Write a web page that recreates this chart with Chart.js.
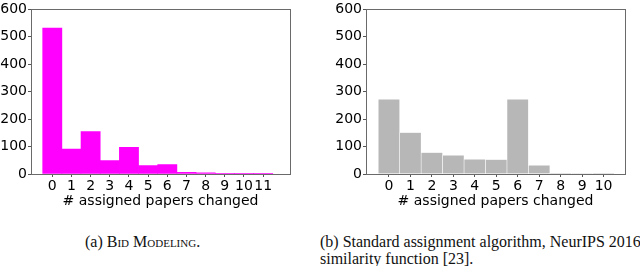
<!DOCTYPE html>
<html>
<head>
<meta charset="utf-8">
<script src="https://cdn.jsdelivr.net/npm/chart.js@4/dist/chart.umd.min.js"></script>
<style>
  body { margin: 0; background: #fff; width: 640px; height: 266px; position: relative; overflow: hidden; }
  canvas { position: absolute; top: 0; }
  #graficoBid { left: 0; }
  #graficoStd { left: 320px; }
  .caption { position: absolute; font-family: 'Liberation Serif', serif; font-size: 16px; color: #111; white-space: nowrap; line-height: 17px; }
  .sc { font-variant: small-caps; }
</style>
</head>
<body>
<canvas id="graficoBid" width="320" height="212"></canvas>
<canvas id="graficoStd" width="320" height="212"></canvas>
<div class="caption" style="left:85px; top:233px;">(a) <span class="sc">Bid Modeling</span>.</div>
<div class="caption" style="left:320px; top:233px;">(b) Standard assignment algorithm, NeurIPS 2016<br>similarity function [23].</div>

<script>
// datos
const bidBins = [0, 1, 2, 3, 4, 5, 6, 7, 8, 9, 10, 11];
const bidCounts = [532, 91, 155, 49, 97, 31, 34, 6, 4, 1, 1, 1];
const stdBins = [0, 1, 2, 3, 4, 5, 6, 7, 8, 9, 10];
const stdCounts = [273, 151, 78, 68, 54, 53, 273, 32, 1, 2, 1];
const yTicks = [0, 100, 200, 300, 400, 500, 600];
const xTitle = '# assigned papers changed';

Chart.defaults.font.family = "'DejaVu Sans', sans-serif";
Chart.defaults.font.size = 14;
Chart.defaults.color = '#000';

const marco = {
  id: 'marco',
  afterDraw(chart) {
    const { ctx, chartArea: a } = chart;
    ctx.save();
    ctx.strokeStyle = '#6a6a6a';
    ctx.lineWidth = 1;
    ctx.strokeRect(Math.round(a.left) + 0.5, Math.round(a.top) + 0.5,
      Math.round(a.right - a.left), Math.round(a.bottom - a.top));
    ctx.restore();
  }
};

function crearHistograma(id, bins, counts, color, xMin, xMax, ejeY, padDer, borde) {
  const ctx = document.getElementById(id).getContext('2d');
  new Chart(ctx, {
    type: 'bar',
    data: {
      datasets: [{
        data: bins.map((b, i) => ({ x: b, y: counts[i] })),
        backgroundColor: color,
        borderColor: borde ? 'rgba(255,255,255,0.5)' : color,
        borderWidth: borde ? 0.6 : 0,
        barPercentage: 1,
        categoryPercentage: 1
      }]
    },
    options: {
      responsive: false,
      animation: false,
      layout: { padding: { top: 5, right: padDer, left: 0, bottom: 0 } },
      plugins: { legend: { display: false }, tooltip: { enabled: false } },
      scales: {
        x: {
          type: 'linear',
          min: xMin,
          max: xMax,
          offset: false,
          afterBuildTicks: s => { s.ticks = bins.map(v => ({ value: v })); },
          afterFit: s => { s.height = 38; },
          ticks: { padding: 1, maxRotation: 0, autoSkip: false, callback: v => String(v) },
          grid: { offset: false, drawOnChartArea: false, drawTicks: true, tickLength: 3, color: '#555' },
          border: { display: true, color: '#6a6a6a' },
          title: { display: true, text: xTitle, padding: { top: 0, bottom: 2 } }
        },
        y: {
          min: 0,
          max: 600,
          afterBuildTicks: s => { s.ticks = yTicks.map(v => ({ value: v })); },
          afterFit: s => { s.width = ejeY; },
          ticks: { padding: 1 },
          grid: { drawOnChartArea: false, drawTicks: true, tickLength: 3, color: '#555' },
          border: { display: true, color: '#6a6a6a' }
        }
      }
    },
    plugins: [marco]
  });
}

crearHistograma('graficoBid', bidBins, bidCounts, '#ff00ff', -1.11, 12.4, 31, 30, false);
crearHistograma('graficoStd', stdBins, stdCounts, '#b7b7b7', -1.07, 11.0, 46, 15, true);
</script>
</body>
</html>
